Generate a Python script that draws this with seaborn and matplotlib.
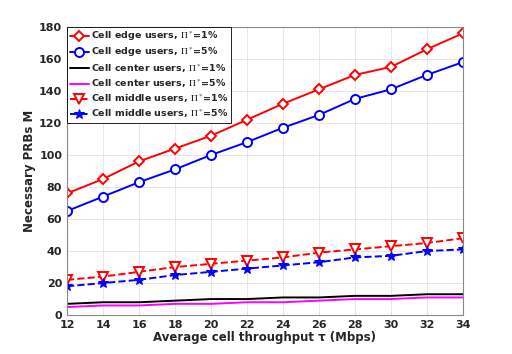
import matplotlib
matplotlib.use("Agg")
import matplotlib.pyplot as plt
import seaborn as sns

throughput = [12, 14, 16, 18, 20, 22, 24, 26, 28, 30, 32, 34]

edge_1 = [76, 85, 96, 104, 112, 122, 132, 141, 150, 155, 166, 176]
edge_5 = [65, 74, 83, 91, 100, 108, 117, 125, 135, 141, 150, 158]
center_1 = [7, 8, 8, 9, 10, 10, 11, 11, 12, 12, 13, 13]
center_5 = [5, 6, 6, 7, 7, 8, 8, 9, 10, 10, 11, 11]
middle_1 = [22, 24, 27, 30, 32, 34, 36, 39, 41, 43, 45, 48]
middle_5 = [18, 20, 22, 25, 27, 29, 31, 33, 36, 37, 40, 41]

sns.set_style("whitegrid")
plt.rcParams['font.family'] = ['DejaVu Sans']
plt.rcParams['mathtext.fontset'] = 'stix'

fig = plt.figure(figsize=(5.12, 3.54), dpi=100)
ax = fig.add_axes([0.131, 0.110, 0.773, 0.814])

series = [
    (edge_1, r'Cell edge users, $\Pi^*$=1%', 'red', '-', 'D', 5.5),
    (edge_5, r'Cell edge users, $\Pi^*$=5%', 'blue', '-', 'o', 6.5),
    (center_1, r'Cell center users, $\Pi^*$=1%', 'black', '-', None, 0),
    (center_5, r'Cell center users, $\Pi^*$=5%', 'magenta', '-', None, 0),
    (middle_1, r'Cell middle users, $\Pi^*$=1%', 'red', '--', 'v', 7),
    (middle_5, r'Cell middle users, $\Pi^*$=5%', 'blue', '--', '*', 7),
]

for vals, label, color, ls, marker, ms in series:
    if marker == '*':
        sns.lineplot(x=throughput, y=vals, ax=ax, color=color, linestyle=ls, lw=1.4,
                     marker=marker, markersize=ms, markerfacecolor=color,
                     markeredgecolor=color, label=label)
    elif marker:
        sns.lineplot(x=throughput, y=vals, ax=ax, color=color, linestyle=ls, lw=1.4,
                     marker=marker, markersize=ms, markerfacecolor='white',
                     markeredgecolor=color, markeredgewidth=1.4, label=label)
    else:
        sns.lineplot(x=throughput, y=vals, ax=ax, color=color, linestyle=ls, lw=1.4,
                     label=label)

ax.set_xlim(12, 34)
ax.set_ylim(0, 180)
ax.set_xticks(range(12, 35, 2))
ax.set_yticks(range(0, 181, 20))
ax.grid(True, color='#e6e6e6', lw=0.7)
for s in ax.spines.values():
    s.set_color('#888888')
    s.set_linewidth(0.8)
ax.tick_params(labelsize=8, length=3, color='#888888', direction='in')
for t in ax.get_xticklabels() + ax.get_yticklabels():
    t.set_fontweight('bold')
    t.set_color('#262626')

ax.set_xlabel('Average cell throughput τ (Mbps)', fontsize=8.5, fontweight='bold', labelpad=1)
ax.set_ylabel('Necessary PRBs M', fontsize=8.5, fontweight='bold', labelpad=2)

leg = ax.legend(loc='upper left', fontsize=6.8, frameon=True, fancybox=False,
                framealpha=1, borderaxespad=0, handlelength=2.0, handletextpad=0.2,
                labelspacing=0.3, borderpad=0.3)
leg.get_frame().set_edgecolor('black')
leg.get_frame().set_linewidth(0.6)
for t in leg.get_texts():
    t.set_fontweight('bold')

fig.savefig('out.png', dpi=100)
